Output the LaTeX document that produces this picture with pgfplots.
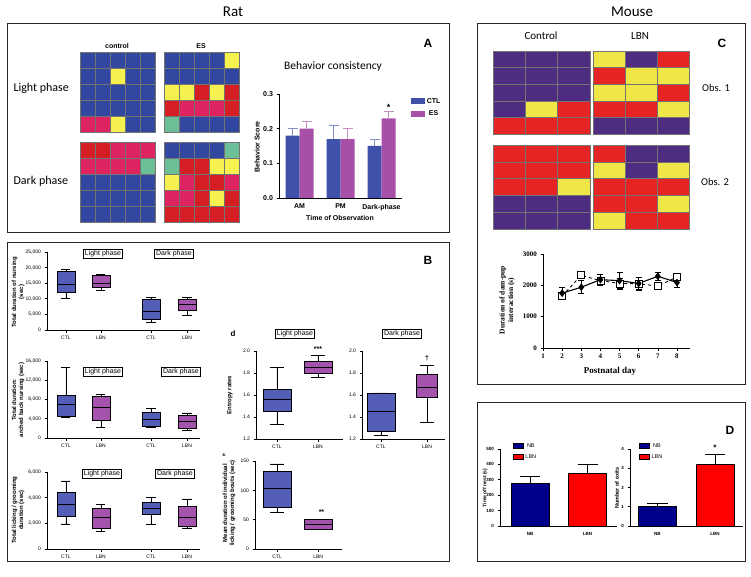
\documentclass[border=0pt]{standalone}
\usepackage{fontspec}
\setmainfont{Liberation Sans}
\newfontfamily\cali{Carlito}
\newfontfamily\tms{Liberation Serif}
\usepackage{pgfplots}
\pgfplotsset{compat=1.18}
\usepgfplotslibrary{statistics}

\definecolor{ctl}{RGB}{63,81,170}
\definecolor{es}{RGB}{168,80,168}
\definecolor{bxb}{RGB}{84,94,184}
\definecolor{bxp}{RGB}{164,84,172}
\definecolor{nb}{RGB}{0,0,140}
\definecolor{lbn}{RGB}{255,0,0}
% heat map colours
\definecolor{hB}{RGB}{50,72,160}
\definecolor{hY}{RGB}{246,240,80}
\definecolor{hR}{RGB}{212,30,36}
\definecolor{hP}{RGB}{222,36,96}
\definecolor{hG}{RGB}{108,190,150}
\definecolor{mU}{RGB}{78,44,130}
\definecolor{mY}{RGB}{240,230,72}
\definecolor{mR}{RGB}{230,36,36}

\tikzset{cellshape/.style={}}
\pgfplotsset{
  heat/.style={scale only axis, hide axis, clip=false, y dir=reverse, enlargelimits=false,
    anchor=south west},
  hcell/.style={scatter, only marks, mark=square*, scatter src=explicit symbolic,
    scatter/classes={
      B={fill=hB, draw=black!55, line width=0.4pt, cellshape},
      Y={fill=hY, draw=black!55, line width=0.4pt, cellshape},
      R={fill=hR, draw=black!55, line width=0.4pt, cellshape},
      P={fill=hP, draw=black!55, line width=0.4pt, cellshape},
      G={fill=hG, draw=black!55, line width=0.4pt, cellshape},
      U={fill=mU, draw=black!55, line width=0.4pt, cellshape},
      V={fill=mY, draw=black!55, line width=0.4pt, cellshape},
      S={fill=mR, draw=black!55, line width=0.4pt, cellshape}}},
  gp/.style={scale only axis, clip=false, anchor=south west, axis lines*=left,
    tick align=outside, tick pos=left, major tick length=2.5pt,
    axis line style={line width=0.8pt}, every tick/.style={black, line width=0.7pt},
    /pgf/number format/assume math mode=true},
  bx/.style={draw=black, line width=0.6pt, boxplot/draw direction=y},
  smalltick/.style={tick label style={font=\fontsize{5}{6}\selectfont}},
}

\begin{document}
\begin{tikzpicture}
\useasboundingbox (0pt,0pt) rectangle (751pt,-577pt);

% panel frames and titles
\draw[line width=0.9pt, black!85] (7pt,-23pt) rectangle (449pt,-232pt);
\draw[line width=0.9pt, black!85] (7pt,-242pt) rectangle (449pt,-561pt);
\draw[line width=0.9pt, black!85] (477pt,-23pt) rectangle (745pt,-384pt);
\draw[line width=0.9pt, black!85] (477pt,-402pt) rectangle (745pt,-561pt);
\node[font=\cali\fontsize{15}{16}\selectfont] at (233pt,-12pt) {Rat};
\node[font=\cali\fontsize{15}{16}\selectfont] at (632pt,-12pt) {Mouse};

% ---------- A ----------
\node[font=\bfseries\fontsize{12}{12}\selectfont] at (428pt,-43pt) {A};
\node[font=\bfseries\fontsize{7}{8}\selectfont] at (117pt,-46pt) {control};
\node[font=\bfseries\fontsize{7}{8}\selectfont] at (201pt,-46pt) {ES};
\node[font=\cali\fontsize{12}{12}\selectfont, anchor=west] at (10pt,-88pt) {Light phase};
\node[font=\cali\fontsize{12}{12}\selectfont, anchor=west] at (10pt,-181pt) {Dark phase};
\node[font=\cali\fontsize{11.5}{12}\selectfont] at (333pt,-66pt) {Behavior consistency};
\node[font=\bfseries\fontsize{7}{8}\selectfont, rotate=90] at (257pt,-147pt) {Behavior Score};
\node[font=\bfseries\fontsize{7}{8}\selectfont] at (340pt,-218pt) {Time of Observation};

\begin{axis}[heat, at={(80pt,-132pt)}, width=75pt, height=80pt,
  xmin=-0.5, xmax=4.5, ymin=-0.5, ymax=4.5, /tikz/cellshape/.style={yscale=1.067}]
\addplot[hcell, mark size=7.5pt] table[meta index=2, row sep=\\]{
x y c\\
0 0 B\\1 0 B\\2 0 B\\3 0 B\\4 0 B\\
0 1 B\\1 1 B\\2 1 Y\\3 1 B\\4 1 B\\
0 2 B\\1 2 B\\2 2 B\\3 2 B\\4 2 B\\
0 3 B\\1 3 B\\2 3 B\\3 3 B\\4 3 B\\
0 4 P\\1 4 P\\2 4 Y\\3 4 B\\4 4 B\\
};
\end{axis}
\begin{axis}[heat, at={(80pt,-222pt)}, width=75pt, height=80pt,
  xmin=-0.5, xmax=4.5, ymin=-0.5, ymax=4.5, /tikz/cellshape/.style={yscale=1.067}]
\addplot[hcell, mark size=7.5pt] table[meta index=2, row sep=\\]{
x y c\\
0 0 R\\1 0 R\\2 0 P\\3 0 P\\4 0 P\\
0 1 P\\1 1 P\\2 1 P\\3 1 P\\4 1 G\\
0 2 B\\1 2 B\\2 2 B\\3 2 B\\4 2 B\\
0 3 B\\1 3 B\\2 3 B\\3 3 B\\4 3 B\\
0 4 B\\1 4 B\\2 4 B\\3 4 B\\4 4 B\\
};
\end{axis}
\begin{axis}[heat, at={(164pt,-132pt)}, width=75pt, height=80pt,
  xmin=-0.5, xmax=4.5, ymin=-0.5, ymax=4.5, /tikz/cellshape/.style={yscale=1.067}]
\addplot[hcell, mark size=7.5pt] table[meta index=2, row sep=\\]{
x y c\\
0 0 B\\1 0 B\\2 0 B\\3 0 B\\4 0 Y\\
0 1 B\\1 1 B\\2 1 B\\3 1 B\\4 1 B\\
0 2 Y\\1 2 Y\\2 2 R\\3 2 Y\\4 2 R\\
0 3 R\\1 3 P\\2 3 P\\3 3 P\\4 3 R\\
0 4 G\\1 4 B\\2 4 B\\3 4 B\\4 4 B\\
};
\end{axis}
\begin{axis}[heat, at={(164pt,-222pt)}, width=75pt, height=80pt,
  xmin=-0.5, xmax=4.5, ymin=-0.5, ymax=4.5, /tikz/cellshape/.style={yscale=1.067}]
\addplot[hcell, mark size=7.5pt] table[meta index=2, row sep=\\]{
x y c\\
0 0 B\\1 0 B\\2 0 B\\3 0 B\\4 0 G\\
0 1 G\\1 1 R\\2 1 R\\3 1 Y\\4 1 Y\\
0 2 Y\\1 2 P\\2 2 R\\3 2 R\\4 2 P\\
0 3 P\\1 3 P\\2 3 R\\3 3 Y\\4 3 R\\
0 4 R\\1 4 R\\2 4 R\\3 4 R\\4 4 R\\
};
\end{axis}

\begin{axis}[gp, at={(279pt,-198pt)}, width=123pt, height=104pt,
  ybar=0pt, bar width=14pt, xmin=-0.5, xmax=2.5, ymin=0, ymax=0.3,
  xtick={0,1,2}, xticklabels={AM,PM,Dark-phase}, x tick style={draw=none},
  ytick={0,0.1,0.2,0.3},
  yticklabel style={/pgf/number format/.cd, fixed, fixed zerofill, precision=1},
  tick label style={font=\bfseries\fontsize{7}{8}\selectfont},
  legend style={at={(1.07,0.98)}, anchor=north west, draw=none, fill=none,
    font=\bfseries\fontsize{7}{8}\selectfont, inner sep=0pt, row sep=2pt},
  legend image code/.code={\fill[#1] (0pt,-3pt) rectangle (14pt,3pt);}]
\addplot[fill=ctl, draw=none, error bars/.cd, y dir=plus, y explicit,
  error bar style={color=ctl!65, line width=0.8pt},
  error mark options={rotate=90, mark size=5pt, line width=0.8pt, color=ctl!65}]
  coordinates {(0,0.18) +- (0,0.02) (1,0.17) +- (0,0.04) (2,0.15) +- (0,0.02)};
\addlegendentry{CTL}
\addplot[fill=es, draw=none, error bars/.cd, y dir=plus, y explicit,
  error bar style={color=es!65, line width=0.8pt},
  error mark options={rotate=90, mark size=5pt, line width=0.8pt, color=es!65}]
  coordinates {(0,0.20) +- (0,0.02) (1,0.17) +- (0,0.03) (2,0.23) +- (0,0.02)};
\addlegendentry{ES}
\node[font=\bfseries\fontsize{9}{9}\selectfont] at (axis cs:2,0.262) [xshift=7pt] {*};
\end{axis}

% ---------- B ----------
\node[font=\bfseries\fontsize{12}{12}\selectfont] at (428pt,-260pt) {B};
\tikzset{phase/.style={draw, line width=0.7pt, inner sep=1.5pt, font=\fontsize{7}{8}\selectfont}}
\node[phase] at (103pt,-254pt) {Light phase};
\node[phase] at (174pt,-254pt) {Dark phase};
\node[phase] at (103pt,-372pt) {Light phase};
\node[phase] at (181pt,-372pt) {Dark phase};
\node[phase] at (102pt,-474pt) {Light phase};
\node[phase] at (175pt,-474pt) {Dark phase};
\node[phase] at (295pt,-334pt) {Light phase};
\node[phase] at (402pt,-334pt) {Dark phase};
\node[font=\bfseries\fontsize{8}{8}\selectfont] at (233pt,-334pt) {d};
\node[font=\bfseries\fontsize{5}{5}\selectfont, rotate=90] at (224pt,-455pt) {e};
\tikzset{blab/.style={rotate=90, align=center, font=\bfseries\fontsize{6}{7}\selectfont}}
\node[blab] at (18pt,-292pt) {Total duration of nursing\\(sec)};
\node[blab] at (18pt,-400pt) {Total duration:\\arched back nursing (sec)};
\node[blab] at (18pt,-510pt) {Total licking / grooming\\duration (sec)};
\node[blab] at (230pt,-395pt) {Entropy rates};
\node[blab] at (229pt,-503pt) {Mean duration of individual\\licking / grooming bouts (sec)};

% durations in thousands of seconds
\begin{axis}[gp, smalltick, at={(47pt,-330pt)}, width=153pt, height=78pt,
  xmin=0, xmax=4.37, ymin=0, ymax=25,
  xtick={0.54,1.54,2.97,4.0}, xticklabels={CTL,LBN,CTL,LBN},
  ytick={0,5,10,15,20,25}, yticklabels={0,{5,000},{10,000},{15,000},{20,000},{25,000}}]
\addplot[bx, fill=bxb, boxplot prepared={draw position=0.54, box extend=0.51, whisker extend=0.26,
  lower whisker=10.2, lower quartile=12.1, median=14.7, upper quartile=18.8, upper whisker=19.3}] coordinates {};
\addplot[bx, fill=bxp, boxplot prepared={draw position=1.54, box extend=0.51, whisker extend=0.26,
  lower whisker=12.8, lower quartile=13.7, median=15.0, upper quartile=17.6, upper whisker=17.7}] coordinates {};
\addplot[bx, fill=bxb, boxplot prepared={draw position=2.97, box extend=0.51, whisker extend=0.26,
  lower whisker=2.5, lower quartile=3.3, median=6.1, upper quartile=9.7, upper whisker=10.5}] coordinates {};
\addplot[bx, fill=bxp, boxplot prepared={draw position=4.0, box extend=0.51, whisker extend=0.26,
  lower whisker=4.7, lower quartile=6.2, median=8.1, upper quartile=10.0, upper whisker=10.4}] coordinates {};
\end{axis}

\begin{axis}[gp, smalltick, at={(47pt,-438pt)}, width=153pt, height=77pt,
  xmin=0, xmax=4.37, ymin=0, ymax=16,
  xtick={0.54,1.54,2.97,4.0}, xticklabels={CTL,LBN,CTL,LBN},
  ytick={0,4,8,12,16}, yticklabels={0,{4,000},{8,000},{12,000},{16,000}}]
\addplot[bx, fill=bxb, boxplot prepared={draw position=0.54, box extend=0.51, whisker extend=0.26,
  lower whisker=4.2, lower quartile=4.6, median=7.0, upper quartile=8.9, upper whisker=14.7}] coordinates {};
\addplot[bx, fill=bxp, boxplot prepared={draw position=1.54, box extend=0.51, whisker extend=0.26,
  lower whisker=2.2, lower quartile=3.6, median=6.3, upper quartile=8.6, upper whisker=9.1}] coordinates {};
\addplot[bx, fill=bxb, boxplot prepared={draw position=2.97, box extend=0.51, whisker extend=0.26,
  lower whisker=2.3, lower quartile=2.5, median=3.9, upper quartile=5.4, upper whisker=6.2}] coordinates {};
\addplot[bx, fill=bxp, boxplot prepared={draw position=4.0, box extend=0.51, whisker extend=0.26,
  lower whisker=1.6, lower quartile=2.1, median=3.5, upper quartile=4.8, upper whisker=5.2}] coordinates {};
\end{axis}

\begin{axis}[gp, smalltick, at={(47pt,-549pt)}, width=153pt, height=77pt,
  xmin=0, xmax=4.37, ymin=0, ymax=6,
  xtick={0.54,1.54,2.97,4.0}, xticklabels={CTL,LBN,CTL,LBN},
  ytick={0,2,4,6}, yticklabels={0,{2,000},{4,000},{6,000}}]
\addplot[bx, fill=bxb, boxplot prepared={draw position=0.54, box extend=0.51, whisker extend=0.26,
  lower whisker=1.95, lower quartile=2.55, median=3.45, upper quartile=4.4, upper whisker=5.3}] coordinates {};
\addplot[bx, fill=bxp, boxplot prepared={draw position=1.54, box extend=0.51, whisker extend=0.26,
  lower whisker=1.35, lower quartile=1.65, median=2.5, upper quartile=3.2, upper whisker=3.5}] coordinates {};
\addplot[bx, fill=bxb, boxplot prepared={draw position=2.97, box extend=0.51, whisker extend=0.26,
  lower whisker=1.9, lower quartile=2.7, median=3.15, upper quartile=3.65, upper whisker=4.05}] coordinates {};
\addplot[bx, fill=bxp, boxplot prepared={draw position=4.0, box extend=0.51, whisker extend=0.26,
  lower whisker=1.65, lower quartile=1.75, median=2.45, upper quartile=3.35, upper whisker=3.9}] coordinates {};
\end{axis}

\begin{axis}[gp, smalltick, at={(256pt,-439pt)}, width=87pt, height=88pt,
  xmin=0, xmax=2.12, ymin=1.2, ymax=2.0,
  xtick={0.51,1.51}, xticklabels={CTL,LBN}, ytick={1.2,1.4,1.6,1.8,2.0},
  yticklabel style={/pgf/number format/.cd, fixed, fixed zerofill, precision=1}]
\addplot[bx, fill=bxb, boxplot prepared={draw position=0.51, box extend=0.68, whisker extend=0.34,
  lower whisker=1.33, lower quartile=1.45, median=1.56, upper quartile=1.65, upper whisker=1.85}] coordinates {};
\addplot[bx, fill=bxp, boxplot prepared={draw position=1.51, box extend=0.68, whisker extend=0.34,
  lower whisker=1.76, lower quartile=1.80, median=1.85, upper quartile=1.91, upper whisker=1.96}] coordinates {};
\node[font=\bfseries\fontsize{7}{7}\selectfont, anchor=south] at (axis cs:1.51,1.965) {***};
\end{axis}

\begin{axis}[gp, smalltick, at={(362pt,-439pt)}, width=83pt, height=88pt,
  xmin=0, xmax=1.8, ymin=1.2, ymax=2.0,
  xtick={0.41,1.41}, xticklabels={CTL,LBN}, ytick={1.2,1.4,1.6,1.8,2.0},
  yticklabel style={/pgf/number format/.cd, fixed, fixed zerofill, precision=1}]
\addplot[bx, fill=bxb, boxplot prepared={draw position=0.41, box extend=0.61, whisker extend=0.3,
  lower whisker=1.23, lower quartile=1.27, median=1.45, upper quartile=1.62, upper whisker=1.62}] coordinates {};
\addplot[bx, fill=bxp, boxplot prepared={draw position=1.41, box extend=0.46, whisker extend=0.3,
  lower whisker=1.35, lower quartile=1.58, median=1.67, upper quartile=1.79, upper whisker=1.87}] coordinates {};
\node[font=\bfseries\fontsize{7}{7}\selectfont, anchor=south] at (axis cs:1.41,1.875) {†};
\end{axis}

\begin{axis}[gp, smalltick, at={(255pt,-549pt)}, width=87pt, height=88pt,
  xmin=0, xmax=2.12, ymin=0, ymax=150,
  xtick={0.54,1.54}, xticklabels={CTL,LBN}, ytick={0,50,100,150}]
\addplot[bx, fill=bxb, boxplot prepared={draw position=0.54, box extend=0.68, whisker extend=0.34,
  lower whisker=62, lower quartile=71, median=104, upper quartile=133, upper whisker=145}] coordinates {};
\addplot[bx, fill=bxp, boxplot prepared={draw position=1.54, box extend=0.68, whisker extend=0.34,
  lower whisker=33, lower quartile=33, median=42, upper quartile=51, upper whisker=51}] coordinates {};
\node[font=\bfseries\fontsize{7}{7}\selectfont, anchor=south] at (axis cs:1.62,53) {**};
\end{axis}

% ---------- C ----------
\node[font=\bfseries\fontsize{12}{12}\selectfont] at (722pt,-43pt) {C};
\node[font=\cali\fontsize{11}{12}\selectfont] at (541pt,-36pt) {Control};
\node[font=\cali\fontsize{11}{12}\selectfont] at (640pt,-36pt) {LBN};
\node[font=\cali\fontsize{10.5}{12}\selectfont] at (716pt,-88pt) {Obs. 1};
\node[font=\cali\fontsize{10.5}{12}\selectfont] at (715pt,-182pt) {Obs. 2};

\begin{axis}[heat, at={(493pt,-134pt)}, width=97pt, height=83pt,
  xmin=-0.5, xmax=2.5, ymin=-0.5, ymax=4.5, /tikz/cellshape/.style={xscale=1.95}]
\addplot[hcell, mark size=8.3pt] table[meta index=2, row sep=\\]{
x y c\\
0 0 U\\1 0 U\\2 0 U\\
0 1 U\\1 1 U\\2 1 U\\
0 2 U\\1 2 U\\2 2 U\\
0 3 U\\1 3 V\\2 3 S\\
0 4 S\\1 4 S\\2 4 S\\
};
\end{axis}
\begin{axis}[heat, at={(593pt,-134pt)}, width=96pt, height=83pt,
  xmin=-0.5, xmax=2.5, ymin=-0.5, ymax=4.5, /tikz/cellshape/.style={xscale=1.93}]
\addplot[hcell, mark size=8.3pt] table[meta index=2, row sep=\\]{
x y c\\
0 0 V\\1 0 U\\2 0 S\\
0 1 S\\1 1 V\\2 1 V\\
0 2 V\\1 2 V\\2 2 S\\
0 3 S\\1 3 S\\2 3 V\\
0 4 U\\1 4 U\\2 4 U\\
};
\end{axis}
\begin{axis}[heat, at={(493pt,-229pt)}, width=97pt, height=84pt,
  xmin=-0.5, xmax=2.5, ymin=-0.5, ymax=4.5, /tikz/cellshape/.style={xscale=1.93}]
\addplot[hcell, mark size=8.4pt] table[meta index=2, row sep=\\]{
x y c\\
0 0 S\\1 0 S\\2 0 S\\
0 1 S\\1 1 S\\2 1 S\\
0 2 S\\1 2 S\\2 2 V\\
0 3 U\\1 3 U\\2 3 U\\
0 4 U\\1 4 U\\2 4 U\\
};
\end{axis}
\begin{axis}[heat, at={(593pt,-229pt)}, width=96pt, height=84pt,
  xmin=-0.5, xmax=2.5, ymin=-0.5, ymax=4.5, /tikz/cellshape/.style={xscale=1.91}]
\addplot[hcell, mark size=8.4pt] table[meta index=2, row sep=\\]{
x y c\\
0 0 S\\1 0 U\\2 0 U\\
0 1 V\\1 1 U\\2 1 V\\
0 2 S\\1 2 S\\2 2 S\\
0 3 S\\1 3 S\\2 3 V\\
0 4 V\\1 4 S\\2 4 S\\
};
\end{axis}

\node[rotate=90, align=center, font=\tms\bfseries\fontsize{7.5}{8.5}\selectfont] at (507pt,-300pt) {Duration of dam-pup\\interaction (s)};
\node[font=\tms\bfseries\fontsize{9}{10}\selectfont] at (610pt,-371pt) {Postnatal day};
\begin{axis}[gp, at={(543pt,-348pt)}, width=147pt, height=94pt,
  xmin=1, xmax=8.68, ymin=0, ymax=3000,
  xtick={1,2,3,4,5,6,7,8}, ytick={0,1000,2000,3000},
  yticklabel style={/pgf/number format/.cd, fixed, 1000 sep={}},
  tick label style={font=\tms\bfseries\fontsize{7}{8}\selectfont},
  axis line style={line width=1pt}]
\addplot[black, dashed, line width=0.9pt, mark=square*, mark size=3.5pt,
  mark options={solid, fill=white, line width=0.8pt},
  error bars/.cd, y dir=both, y explicit, error bar style={solid, line width=0.6pt},
  error mark options={solid, rotate=90, mark size=3pt, line width=0.6pt}]
  coordinates {(2,1660) +- (0,80) (3,2320) +- (0,90) (4,2150) +- (0,110) (5,2060) +- (0,180)
               (6,2050) +- (0,200) (7,1975) +- (0,90) (8,2270) +- (0,80)};
\addplot[black, line width=1.1pt, mark=diamond*, mark size=3pt,
  error bars/.cd, y dir=both, y explicit, error bar style={line width=0.6pt},
  error mark options={rotate=90, mark size=3pt, line width=0.6pt}]
  coordinates {(2,1750) +- (0,180) (3,1940) +- (0,210) (4,2180) +- (0,180) (5,2150) +- (0,260)
               (6,2060) +- (0,190) (7,2290) +- (0,120) (8,2090) +- (0,160)};
\end{axis}

% ---------- D ----------
\node[font=\bfseries\fontsize{12}{12}\selectfont] at (730pt,-430pt) {D};
\node[rotate=90, font=\bfseries\fontsize{5}{6}\selectfont] at (485pt,-488pt) {Time off nest (s)};
\node[rotate=90, font=\bfseries\fontsize{5.5}{6}\selectfont] at (617pt,-488pt) {Number of exits};

\begin{axis}[gp, at={(500pt,-526pt)}, width=117pt, height=77pt,
  xmin=0, xmax=2.035, ymin=0, ymax=500, ybar, bar width=38pt,
  xtick={0.522,1.522}, xticklabels={NB,LBN}, x tick style={draw=none},
  ytick={0,100,200,300,400,500},
  tick label style={font=\bfseries\fontsize{4.5}{5}\selectfont},
  legend style={at={(0.11,1.10)}, anchor=north west, draw=none, fill=none,
    font=\fontsize{5.5}{6}\selectfont, inner sep=0pt, row sep=1.5pt},
  legend image code/.code={\draw[#1, draw=black, line width=0.4pt] (0pt,-2.5pt) rectangle (10pt,2.5pt);}]
\addplot[fill=nb, draw=black, line width=0.6pt, bar shift=0pt,
  error bars/.cd, y dir=plus, y explicit, error bar style={line width=0.8pt},
  error mark options={rotate=90, mark size=10pt, line width=0.8pt}]
  coordinates {(0.522,280) +- (0,40)};
\addlegendentry{NB}
\addplot[fill=lbn, draw=black, line width=0.6pt, bar shift=0pt,
  error bars/.cd, y dir=plus, y explicit, error bar style={line width=0.8pt},
  error mark options={rotate=90, mark size=10pt, line width=0.8pt}]
  coordinates {(1.522,345) +- (0,55)};
\addlegendentry{LBN}
\end{axis}

\begin{axis}[gp, at={(630pt,-526pt)}, width=113pt, height=77pt,
  xmin=0, xmax=1.965, ymin=0, ymax=4, ybar, bar width=38pt,
  xtick={0.478,1.478}, xticklabels={NB,LBN}, x tick style={draw=none},
  ytick={0,1,2,3,4},
  tick label style={font=\bfseries\fontsize{4.5}{5}\selectfont},
  legend style={at={(0.08,1.10)}, anchor=north west, draw=none, fill=none,
    font=\fontsize{5.5}{6}\selectfont, inner sep=0pt, row sep=1.5pt},
  legend image code/.code={\draw[#1, draw=black, line width=0.4pt] (0pt,-2.5pt) rectangle (10pt,2.5pt);}]
\addplot[fill=nb, draw=black, line width=0.6pt, bar shift=0pt,
  error bars/.cd, y dir=plus, y explicit, error bar style={line width=0.8pt},
  error mark options={rotate=90, mark size=10pt, line width=0.8pt}]
  coordinates {(0.478,1.0) +- (0,0.2)};
\addlegendentry{NB}
\addplot[fill=lbn, draw=black, line width=0.6pt, bar shift=0pt,
  error bars/.cd, y dir=plus, y explicit, error bar style={line width=0.8pt},
  error mark options={rotate=90, mark size=10pt, line width=0.8pt}]
  coordinates {(1.478,3.2) +- (0,0.5)};
\addlegendentry{LBN}
\node[font=\bfseries\fontsize{8}{8}\selectfont, anchor=south] at (axis cs:1.478,3.72) {*};
\end{axis}
\end{tikzpicture}
\end{document}
